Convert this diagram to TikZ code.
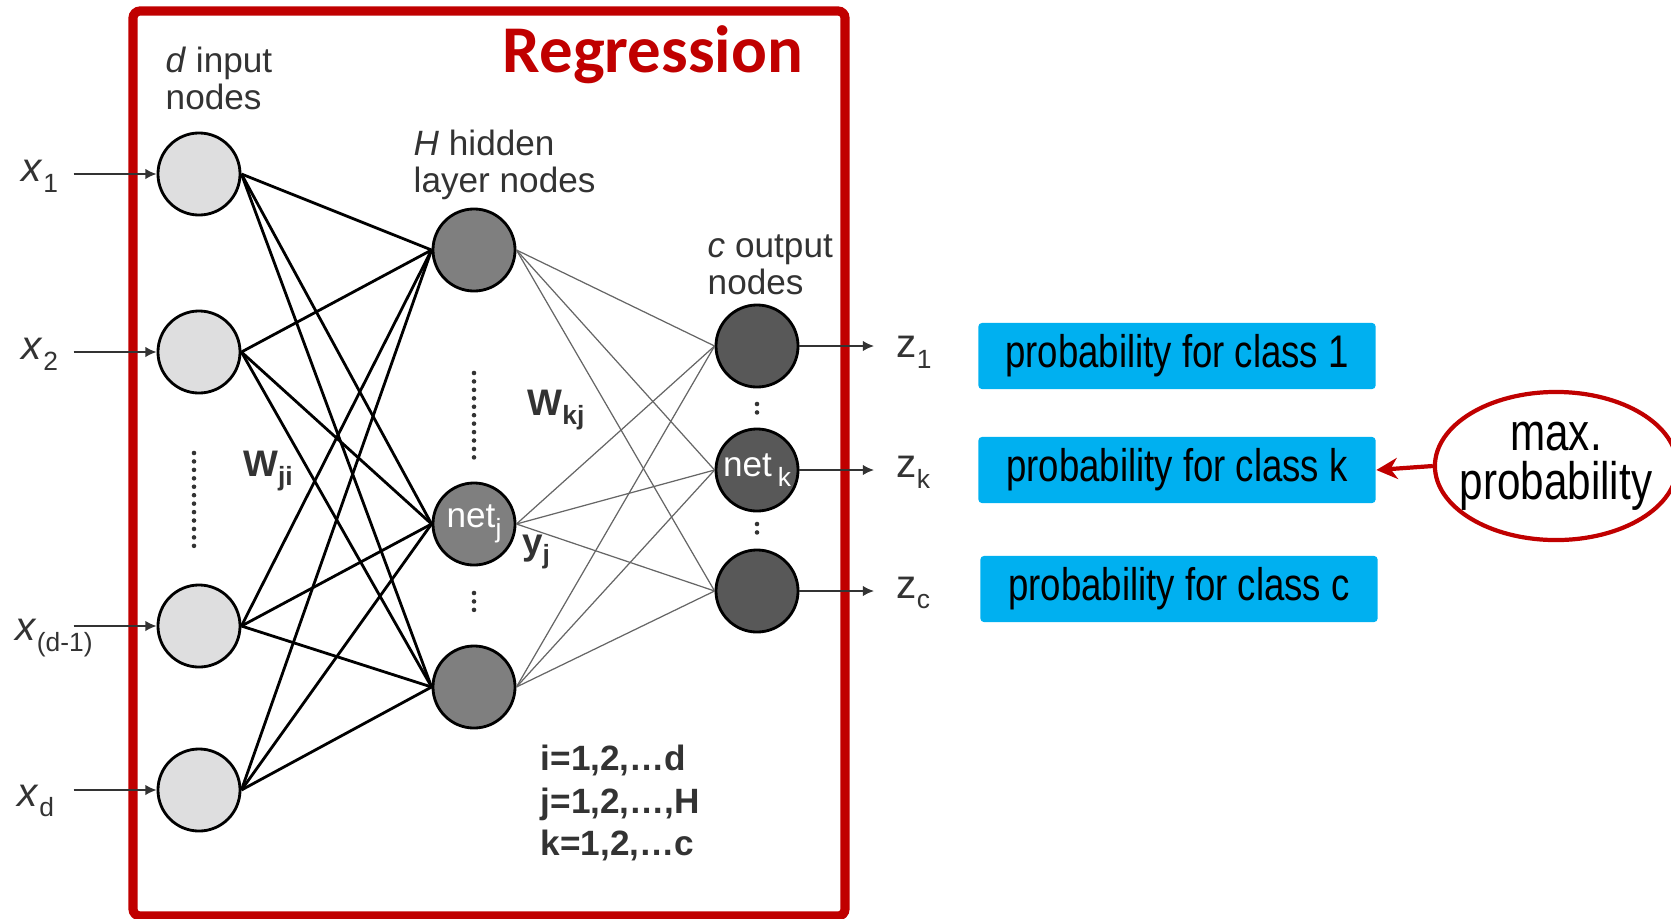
\documentclass[tikz,border=0pt]{standalone}
\usepackage{fontspec}
\setmainfont{Liberation Sans}
\newfontfamily\titlefont{Carlito}
\newfontfamily\narrowfont[FakeStretch=0.8]{Liberation Sans}
\usepackage{xcolor}
\usepackage{tikz}
\usetikzlibrary{positioning,arrows.meta,shapes.geometric}

\definecolor{regred}{HTML}{C00000}
\definecolor{boxblue}{HTML}{00B0F0}
\definecolor{labgray}{HTML}{333333}
\definecolor{infill}{HTML}{DEDEDF}
\definecolor{hidfill}{HTML}{7F7F7F}
\definecolor{outfill}{HTML}{585858}

\newcommand{\lsub}[1]{\raisebox{-0.5ex}{\fontsize{7.5}{7.5}\selectfont #1}}

\begin{document}
\begin{tikzpicture}[
    x=0.01cm, y=-0.01cm,
    font=\fontsize{10}{10.5}\selectfont,
    neuron/.style={circle, draw=black, line width=0.8pt, minimum size=0.82cm, inner sep=0pt},
    in_node/.style={neuron, fill=infill},
    hid_node/.style={neuron, fill=hidfill, text=white},
    out_node/.style={neuron, fill=outfill, text=white},
    lab/.style={text=labgray, inner sep=0pt, align=left},
    wlab/.style={text=labgray, inner sep=0pt, font=\fontsize{10}{12}\selectfont\bfseries, align=left},
    class_box/.style={rectangle, fill=boxblue, rounded corners=1pt, minimum width=3.97cm, minimum height=0.66cm, font=\narrowfont\fontsize{13}{14}\selectfont},
    max_ell/.style={ellipse, draw=regred, line width=1.2pt, fill=white, minimum width=2.4cm, minimum height=1.48cm, inner xsep=-3pt, inner ysep=0pt, align=center, font=\narrowfont\fontsize{15}{14}\selectfont},
    w_ji/.style={draw=black, line width=0.8pt},
    w_kj/.style={draw=black!60, line width=0.35pt},
    io_arrow/.style={-{Latex[length=3.2pt,width=3pt]}, draw=labgray, line width=0.45pt},
    dots/.style={dash pattern=on 0pt off 2.4pt, line cap=round, line width=1.3pt, draw=labgray}
]
\useasboundingbox (0,0) rectangle (1671,918);

% Frame
\draw[regred, line width=2.6pt, rounded corners=2pt] (133,11) rectangle (845,916);
\node (title) [text=regred, font=\titlefont\fontsize{19}{20}\selectfont\bfseries] at (653,55) {Regression};

% Nodes
\node (in1) [in_node] at (199,174) {};
\node (in2) [in_node] at (199,352) {};
\node (in3) [in_node] at (199,626) {};
\node (in4) [in_node] at (199,790) {};

\node (h1) [hid_node] at (474,250) {};
\node (h2) [hid_node] at (474,524) {net\lsub{j}};
\node (h3) [hid_node] at (474,687) {};

\node (o1) [out_node] at (757,346) {};
\node (o2) [out_node] at (757,470) {net\,\lsub{k}};
\node (o3) [out_node] at (757,591) {};

% Labels
\node (inlab) [lab, anchor=west] at (165,78) {\textit{d} input\\nodes};
\node (hidlab) [lab, anchor=west] at (413,165) {\textit{H} hidden\\layer nodes};
\node (outlab) [lab, anchor=west] at (707,265) {\textit{c} output\\nodes};
\node (wji) [wlab, font=\fontsize{10.5}{12}\selectfont\bfseries] at (268,471) {W\lsub{ji}};
\node (wkj) [wlab, font=\fontsize{10.5}{12}\selectfont\bfseries] at (556,410) {W\lsub{kj}};
\node (yj) [wlab, font=\fontsize{10.5}{12}\selectfont\bfseries] at (536,552) {y\lsub{j}};
\node (idx) [wlab, anchor=west] at (540,803) {i=1,2,…d\\j=1,2,…,H\\k=1,2,…c};

\node (x1) [lab, font=\fontsize{11.5}{11}\selectfont] at (40,176) {\textit{x}\lsub{1}};
\node (x2) [lab, font=\fontsize{11.5}{11}\selectfont] at (40,354) {\textit{x}\lsub{2}};
\node (x3) [lab, font=\fontsize{11.5}{11}\selectfont] at (54,638) {\textit{x}\lsub{(d-1)}};
\node (x4) [lab, font=\fontsize{11.5}{11}\selectfont] at (36,801) {\textit{x}\lsub{d}};

\node (z1) [lab, anchor=west, font=\fontsize{11.5}{11}\selectfont] at (896,352) {z\lsub{1}};
\node (zk) [lab, anchor=west, font=\fontsize{11.5}{11}\selectfont] at (896,472) {z\lsub{k}};
\node (zc) [lab, anchor=west, font=\fontsize{11.5}{11}\selectfont] at (896,593) {z\lsub{c}};

\node (b1) [class_box] at (1177,356) {probability for class 1};
\node (bk) [class_box] at (1177,470) {probability for class k};
\node (bc) [class_box] at (1179,589) {probability for class c};
\node (mx) [max_ell] at (1556,466) {max.\\probability};

% Dots
\draw[dots] (194,453) -- (194,546);
\draw[dots] (474,373) -- (474,458);
\draw[dots] (474,593) -- (474,618);
\draw[dots] (757,404) -- (757,414);
\draw[dots] (757,524) -- (757,534);

% Connections
\foreach \i in {1,...,4}
  \foreach \j in {1,2,3}
    \draw[w_ji] (in\i.east) -- (h\j.west);
\foreach \j in {1,2,3}
  \foreach \k in {1,2,3}
    \draw[w_kj] (h\j.east) -- (o\k.west);

\foreach \i in {1,...,4} {
  \coordinate (t\i) at ([xshift=-0.83cm]in\i.west);
  \draw[io_arrow] (t\i) -- (in\i.west);
}
\foreach \k in {1,2,3} {
  \coordinate (e\k) at (874,0 |- o\k);
  \draw[io_arrow] (o\k.east) -- (e\k);
}

\draw[-{Stealth[length=6pt,width=6pt]}, regred, line width=1.2pt] (mx.west) -- (bk.east);

\end{tikzpicture}
\end{document}
